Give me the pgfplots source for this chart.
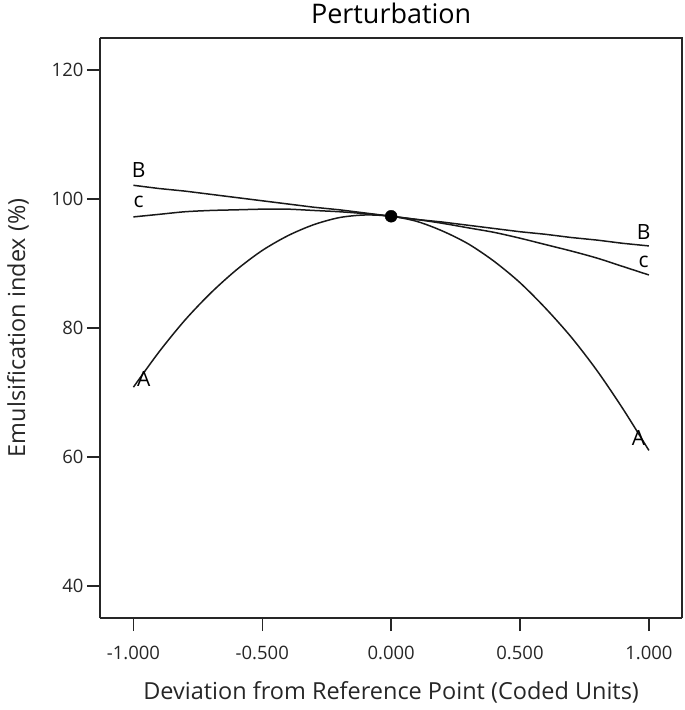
\documentclass[border=0pt]{standalone}
\usepackage{fontspec}
\setmainfont{Open Sans}
\usepackage{pgfplots}
\pgfplotsset{compat=1.18}

% curves
\pgfplotstableread{
x      A      B      C
-1.0   70.8   102.1  97.2
-0.9   76.3   101.6  97.6
-0.8   81.2   101.2  98.0
-0.7   85.4   100.7  98.2
-0.6   89.0   100.2  98.3
-0.5   92.0   99.7   98.4
-0.4   94.3   99.2   98.4
-0.3   96.0   98.7   98.2
-0.2   97.1   98.3   98.0
-0.1   97.5   97.8   97.7
0.0    97.3   97.3   97.3
0.1    96.5   96.8   96.8
0.2    95.0   96.4   96.2
0.3    93.0   95.9   95.5
0.4    90.3   95.4   94.8
0.5    87.0   94.9   93.9
0.6    83.0   94.5   92.9
0.7    78.5   94.0   91.9
0.8    73.3   93.6   90.8
0.9    67.4   93.1   89.5
1.0    61.0   92.7   88.2
}\curves

\begin{document}
\begin{tikzpicture}
\begin{axis}[
  scale only axis,
  width=583pt, height=581pt,
  xmin=-1.13, xmax=1.13,
  ymin=35, ymax=125,
  axis line style={line width=1.8pt, black!85},
  axis x line*=bottom, axis y line*=left,
  xtick={-1,-0.5,0,0.5,1},
  ytick={40,60,...,120},
  tick align=outside,
  major tick length=13pt,
  tick style={line width=1.5pt, black!85},
  xticklabel style={/pgf/number format/.cd, fixed, fixed zerofill, precision=3, assume math mode=true},
  yticklabel style={/pgf/number format/assume math mode=true},
  tick label style={font=\fontsize{18.5}{20}\selectfont, black!85},
  xticklabel shift=12pt,
  title={Perturbation},
  title style={font=\fontsize{27}{29}\selectfont, yshift=4pt},
  xlabel={Deviation from Reference Point (Coded Units)},
  ylabel={Emulsification index (\%)},
  label style={font=\fontsize{23.5}{25}\selectfont, black!85},
  xlabel style={yshift=-14pt},
  ylabel style={yshift=16pt},
  clip=false,
]
\addplot[black!90, line width=1.5pt, smooth] table[x=x, y=A] {\curves};
\addplot[black!90, line width=1.5pt] table[x=x, y=B] {\curves};
\addplot[black!90, line width=1.5pt, smooth] table[x=x, y=C] {\curves};
\addplot[only marks, mark=*, mark size=6pt, black] coordinates {(0,97.3)};

\node[font=\fontsize{21}{22}\selectfont] at (axis cs:-0.98,104.4) {B};
\node[font=\fontsize{21}{22}\selectfont] at (axis cs:-0.98,99.6) {c};
\node[font=\fontsize{21}{22}\selectfont] at (axis cs:-0.96,72.0) {A};
\node[font=\fontsize{21}{22}\selectfont] at (axis cs:0.98,94.9) {B};
\node[font=\fontsize{21}{22}\selectfont] at (axis cs:0.98,90.3) {c};
\node[font=\fontsize{21}{22}\selectfont] at (axis cs:0.96,63.0) {A};

% right and top frame lines
\draw[line width=1.8pt, black!85] (rel axis cs:0,1) -- (rel axis cs:1,1) -- (rel axis cs:1,0);
\end{axis}
\useasboundingbox ([xshift=-100pt,yshift=-92pt]current axis.south west) rectangle ([xshift=2pt,yshift=37pt]current axis.north east);
\end{tikzpicture}
\end{document}
